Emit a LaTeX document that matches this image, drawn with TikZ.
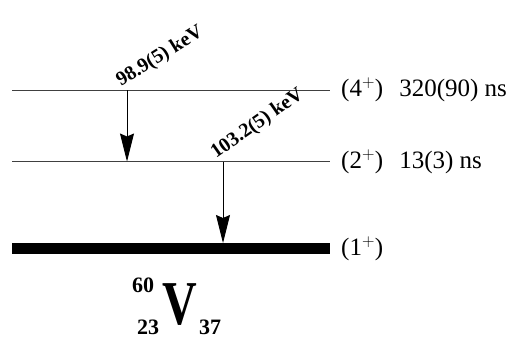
\documentclass[tikz,border=0pt]{standalone}
\usepackage{fontspec}
\setmainfont{Liberation Serif}
\usetikzlibrary{arrows.meta}
\begin{document}
\begin{tikzpicture}[x=1pt,y=-1pt,
  level/.style={draw=black!75,line width=1pt},
  gamma/.style={draw=black,line width=0.9pt,-{Stealth[length=28pt,width=14pt,inset=3pt]}},
  elabel/.style={font=\bfseries\fontsize{20}{20}\selectfont,inner sep=0pt,anchor=base west},
  rlabel/.style={font=\fontsize{25}{25}\selectfont,inner sep=0pt,anchor=west},
  nuc/.style={font=\bfseries\fontsize{22}{22}\selectfont,inner sep=0pt}]
\useasboundingbox (0,0) rectangle (519,338);
% level coordinates
\coordinate (l4a) at (12,90);  \coordinate (l4b) at (330,90);
\coordinate (l2a) at (12,161.5); \coordinate (l2b) at (330,161.5);
\coordinate (l1a) at (12,248.5); \coordinate (l1b) at (330,248.5);
\draw[level] (l4a) -- (l4b);
\draw[level] (l2a) -- (l2b);
\draw[draw=black,line width=11pt] (l1a) -- (l1b);
% gamma transitions
\coordinate (g1s) at (127,90);  \coordinate (g1e) at (127,161.5);
\coordinate (g2s) at (223,161.5); \coordinate (g2e) at (223,243);
\draw[gamma] (g1s) -- (g1e);
\draw[gamma] (g2s) -- (g2e);
\node[elabel,rotate=32] (e1) at (121,87) {98.9(5) keV};
\node[elabel,rotate=35] (e2) at (216,159) {103.2(5) keV};
% level labels
\node[rlabel] (t4) at (341,90) {(4$^{+}$)\hspace{16pt}320(90) ns};
\node[rlabel] (t2) at (341,161.5) {(2$^{+}$)\hspace{16pt}13(3) ns};
\node[rlabel] (t1) at (341,248.5) {(1$^{+}$)};
% nucleus
\node[font=\bfseries\fontsize{48}{48}\selectfont,inner sep=0pt,yscale=1.3] (V) at (180,305) {V};
\node[nuc] (A) at (143,285) {60};
\node[nuc] (Z) at (148,327) {23};
\node[nuc] (N) at (210,327) {37};
\end{tikzpicture}
\end{document}
